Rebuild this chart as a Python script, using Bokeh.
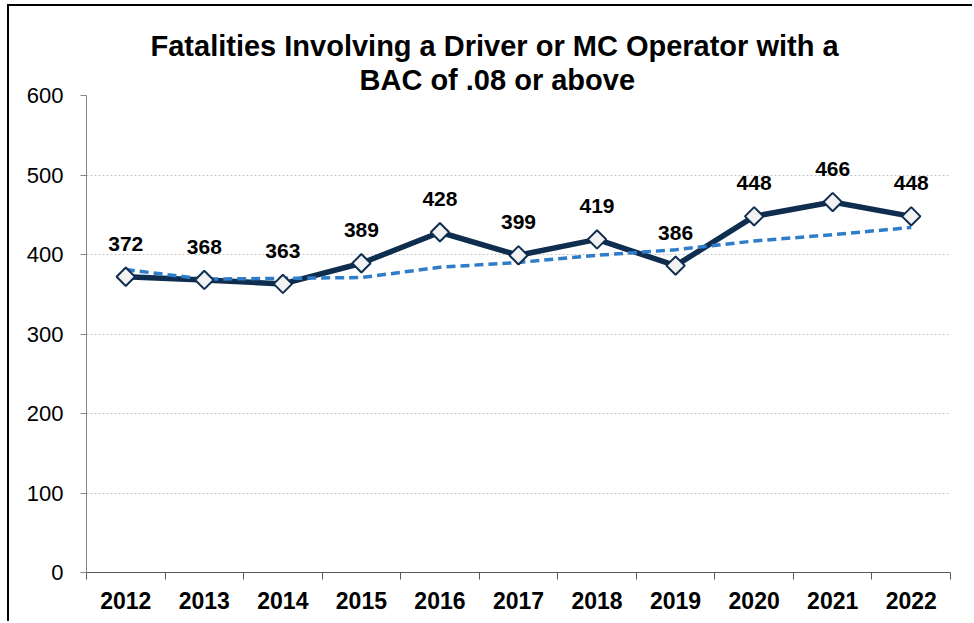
import math
from bokeh.plotting import figure
from bokeh.models import (ColumnDataSource, Range1d, LinearAxis, FixedTicker,
                          LabelSet, Title)
from bokeh.core.properties import value
from bokeh.embed import file_html
from bokeh.resources import INLINE

# ---- data ----
years = ["2012", "2013", "2014", "2015", "2016", "2017", "2018", "2019", "2020", "2021", "2022"]
fatalities = [372, 368, 363, 389, 428, 399, 419, 386, 448, 466, 448]
trend = [381, 369, 370, 371, 384, 390, 399, 406, 417, 425, 434]
y_ticks = [0, 100, 200, 300, 400, 500, 600]
title_line1 = "Fatalities Involving a Driver or MC Operator with a"
title_line2 = "BAC of .08 or above"

FONT = "Liberation Sans"
NAVY = "#0F2D4E"
BLUE = "#2F7CC8"

idx = list(range(len(years)))
bounds = [i - 0.5 for i in range(len(years) + 1)]
src = ColumnDataSource(dict(x=idx, y=fatalities, t=trend,
                            lbl=[str(v) for v in fatalities]))

p = figure(width=965, height=617, output_backend="svg", toolbar_location=None,
           x_range=Range1d(-0.5, len(years) - 0.5), y_range=Range1d(0, 600),
           x_axis_location=None, title_location=None,
           min_border_left=77, min_border_right=24, min_border_top=89,
           min_border_bottom=51)
p.styles = {"border-left": "2px solid black", "border-top": "2px solid black",
            "margin-left": "7px", "margin-top": "4px"}
p.outline_line_color = None
p.background_fill_color = "white"
p.border_fill_color = "white"

# titles (first added sits closest to plot)
t2 = Title(text=title_line2, align="left", offset=273, text_font=FONT,
           text_font_size="29px", text_font_style="bold", text_color="black",
           standoff=0)
p.add_layout(t2, "above")
t1 = Title(text=title_line1, align="left", offset=64, text_font=FONT,
           text_font_size="29px", text_font_style="bold", text_color="black",
           standoff=0)
p.add_layout(t1, "above")

# y axis
ya = p.yaxis[0]
ya.ticker = FixedTicker(ticks=y_ticks)
ya.major_label_text_font = FONT
ya.major_label_text_font_size = "22px"
ya.major_label_text_color = "black"
ya.major_label_standoff = 17
ya.major_tick_out = 6
ya.major_tick_in = 0
ya.minor_tick_line_color = None
ya.axis_line_color = "#868686"
ya.major_tick_line_color = "#868686"

p.ygrid.ticker = FixedTicker(ticks=y_ticks)
p.ygrid.grid_line_color = "#C4C4C4"
p.ygrid.grid_line_dash = "2 2"
p.xgrid.visible = False

# x axis: labels at category centres, minor ticks at category boundaries
xa = LinearAxis(ticker=FixedTicker(ticks=idx, minor_ticks=bounds),
                major_label_overrides={i: y for i, y in enumerate(years)},
                axis_line_color="#595959",
                major_tick_line_color=None, major_tick_out=7, major_tick_in=0,
                minor_tick_line_color="#595959", minor_tick_out=7, minor_tick_in=0,
                major_label_text_font=FONT, major_label_text_font_size="23px",
                major_label_text_font_style="bold", major_label_text_color="black",
                major_label_standoff=12)
p.add_layout(xa, "below")

# series
p.line("x", "y", source=src, line_color=NAVY, line_width=5.5, line_join="round")
p.line("x", "t", source=src, line_color=BLUE, line_width=3.5, line_dash="9 5")
p.scatter("x", "y", source=src, marker="square", angle=math.pi / 4, size=13,
          fill_color="#F2F2F2", line_color=NAVY, line_width=2)

labels = LabelSet(x="x", y="y", text="lbl", source=src, y_offset=26,
                  text_align="center", text_baseline="alphabetic",
                  text_font=value(FONT), text_font_size="21px",
                  text_font_style="bold", text_color="black")
p.add_layout(labels)

open("out.html", "w").write(file_html(p, INLINE))
